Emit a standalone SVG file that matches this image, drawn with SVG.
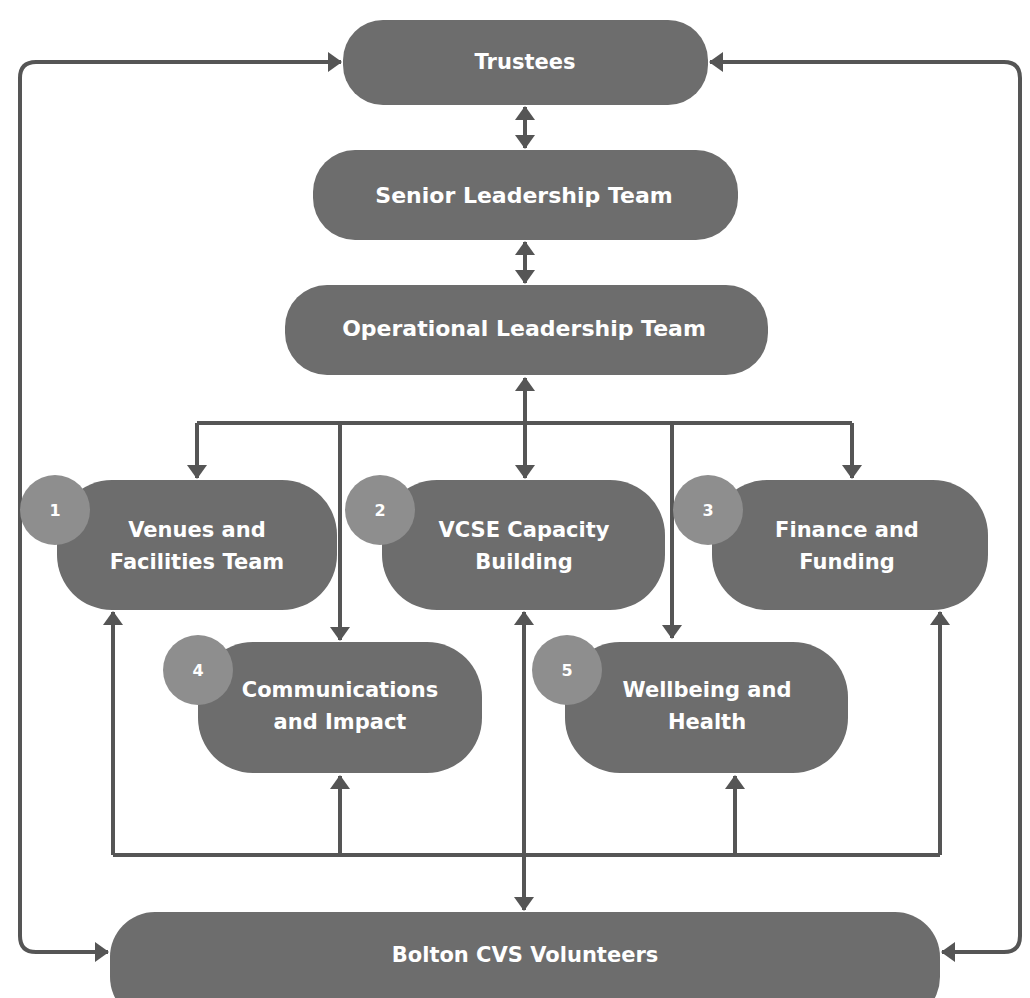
<svg xmlns="http://www.w3.org/2000/svg" width="1030" height="998" viewBox="0 0 1030 998">
<style>
.box{fill:#6d6d6d;}
.badge{fill:#8e8e8e;}
.lbl{font-family:"DejaVu Sans","Noto Sans",sans-serif;font-weight:700;font-size:21px;fill:#ffffff;text-anchor:middle;}
.big{font-size:22px;}
.num{font-family:"DejaVu Sans","Noto Sans",sans-serif;font-weight:700;font-size:16px;fill:#ffffff;text-anchor:middle;}
.ln{fill:none;stroke:#555555;stroke-width:4;}
.ar{marker-end:url(#ah);}
.ar2{marker-start:url(#ah);marker-end:url(#ah);}
</style>
<defs>
<marker id="ah" markerUnits="userSpaceOnUse" markerWidth="14" markerHeight="20" refX="13" refY="10" orient="auto-start-reverse">
<path d="M0,0 L14,10 L0,20 z" fill="#555555"/>
</marker>
</defs>
<rect width="1030" height="998" fill="#ffffff"/>
<g id="connectors">
<line class="ln ar2" x1="525" y1="107" x2="525" y2="148"/>
<line class="ln ar2" x1="525" y1="242" x2="525" y2="283"/>
<line class="ln ar2" x1="525" y1="378" x2="525" y2="478"/>
<path class="ln" d="M197,423 H852"/>
<line class="ln ar" x1="197" y1="423" x2="197" y2="478"/>
<line class="ln ar" x1="340" y1="423" x2="340" y2="640"/>
<line class="ln ar" x1="672" y1="423" x2="672" y2="638"/>
<line class="ln ar" x1="852" y1="423" x2="852" y2="478"/>
<path class="ln" d="M113,855 H940"/>
<line class="ln ar" x1="113" y1="855" x2="113" y2="612"/>
<line class="ln ar" x1="340" y1="855" x2="340" y2="776"/>
<line class="ln ar" x1="735" y1="855" x2="735" y2="776"/>
<line class="ln ar" x1="940" y1="855" x2="940" y2="612"/>
<line class="ln ar2" x1="524" y1="612" x2="524" y2="910"/>
<path class="ln ar2" d="M108,952 H36 Q20,952 20,936 V78 Q20,62 36,62 H341"/>
<path class="ln ar2" d="M710,62 H1004 Q1020,62 1020,78 V936 Q1020,952 1004,952 H942"/>
</g>
<g id="trustees"><rect class="box" x="343" y="20" width="365" height="85" rx="40"/><text class="lbl" x="525" y="69">Trustees</text></g>
<g id="slt"><rect class="box" x="313" y="150" width="425" height="90" rx="42"/><text class="lbl big" x="524" y="203">Senior Leadership Team</text></g>
<g id="olt"><rect class="box" x="285" y="285" width="483" height="90" rx="42"/><text class="lbl big" x="524" y="336">Operational Leadership Team</text></g>
<g id="venues"><rect class="box" x="57" y="480" width="280" height="130" rx="55"/><circle class="badge" cx="55" cy="510" r="35"/><text class="num" x="55" y="516">1</text><text class="lbl" x="197" y="537">Venues and</text><text class="lbl" x="197" y="569">Facilities Team</text></g>
<g id="vcse"><rect class="box" x="382" y="480" width="283" height="130" rx="55"/><circle class="badge" cx="380" cy="510" r="35"/><text class="num" x="380" y="516">2</text><text class="lbl" x="524" y="537">VCSE Capacity</text><text class="lbl" x="524" y="569">Building</text></g>
<g id="finance"><rect class="box" x="712" y="480" width="276" height="130" rx="55"/><circle class="badge" cx="708" cy="510" r="35"/><text class="num" x="708" y="516">3</text><text class="lbl" x="847" y="537">Finance and</text><text class="lbl" x="847" y="569">Funding</text></g>
<g id="comms"><rect class="box" x="198" y="642" width="284" height="131" rx="55"/><circle class="badge" cx="198" cy="670" r="35"/><text class="num" x="198" y="676">4</text><text class="lbl" x="340" y="697">Communications</text><text class="lbl" x="340" y="729">and Impact</text></g>
<g id="wellbeing"><rect class="box" x="565" y="642" width="283" height="131" rx="55"/><circle class="badge" cx="567" cy="670" r="35"/><text class="num" x="567" y="676">5</text><text class="lbl" x="707" y="697">Wellbeing and</text><text class="lbl" x="707" y="729">Health</text></g>
<g id="volunteers"><rect class="box" x="110" y="912" width="830" height="110" rx="45"/><text class="lbl" x="525" y="962">Bolton CVS Volunteers</text></g>
</svg>
